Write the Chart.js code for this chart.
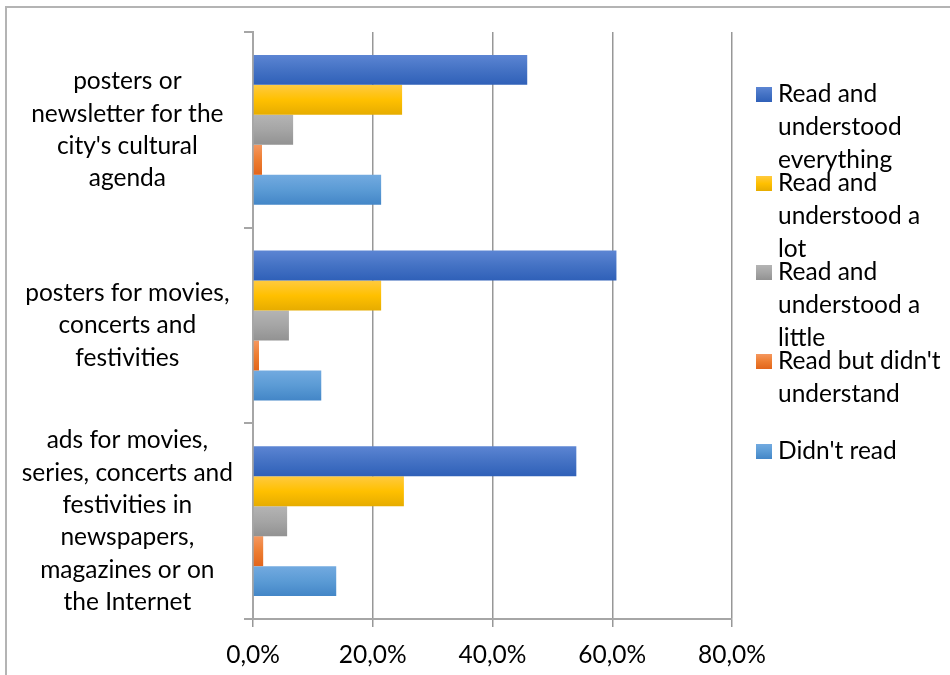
<!DOCTYPE html>
<html>
<head>
<meta charset="utf-8">
<script src="https://cdn.jsdelivr.net/npm/chart.js@4/dist/chart.umd.min.js"></script>
<style>
  html, body { margin: 0; padding: 0; background: #fff; }
  #wrap { position: relative; width: 950px; height: 675px; overflow: hidden; font-family: Lato, sans-serif; }
  #frame { position: absolute; left: 5px; top: 6px; right: -10px; bottom: -10px; border-left: 2px solid #b4b4b4; border-top: 2px solid #b4b4b4; }
  #chart { position: absolute; left: 0; top: 0; }
  #legend { position: absolute; left: 756px; top: 0; width: 194px; height: 675px; }
  .item { position: absolute; left: 0; width: 194px; }
  .box { position: absolute; left: 0; top: 11px; width: 16px; height: 15px; }
  .txt { position: absolute; left: 22px; top: 0; line-height: 33px; font-size: 24.5px; color: #000; white-space: nowrap; }
</style>
</head>
<body>
<div id="wrap">
  <div id="frame"></div>
  <canvas id="chart" width="950" height="675"></canvas>
  <div id="legend"></div>
</div>
<script>
const categories = [
  ["posters or", "newsletter for the", "city's cultural", "agenda"],
  ["posters for movies,", "concerts and", "festivities"],
  ["ads for movies,", "series, concerts and", "festivities in", "newspapers,", "magazines or on", "the Internet"]
];

const seriesNames = [
  "Read and understood everything",
  "Read and understood a lot",
  "Read and understood a little",
  "Read but didn't understand",
  "Didn't read"
];

// legend text is wrapped the same way the office chart wraps it
const legendLines = [
  ["Read and", "understood", "everything"],
  ["Read and", "understood a", "lot"],
  ["Read and", "understood a", "little"],
  ["Read but didn't", "understand"],
  ["Didn't read"]
];

const understoodEverything = [45.8, 60.7, 54.0];
const understoodALot = [24.9, 21.4, 25.2];
const understoodALittle = [6.7, 6.0, 5.7];
const readNotUnderstood = [1.5, 1.0, 1.7];
const didntRead = [21.4, 11.4, 13.9];

const xTickValues = [0, 20, 40, 60, 80];

// top / middle / bottom shades for each series
const shades = [
  ["#5c85d3", "#4472c4", "#2f60b8"],
  ["#ffca40", "#ffc000", "#e6ac00"],
  ["#b4b4b4", "#a5a5a5", "#929292"],
  ["#f5975f", "#ed7d31", "#e2651b"],
  ["#72aae0", "#5b9bd5", "#4386c7"]
];

function barFill(s) {
  return function (ctx) {
    const el = ctx.element;
    if (!el || el.height == null || !isFinite(el.y)) return s[1];
    const top = el.y - el.height / 2;
    const g = ctx.chart.ctx.createLinearGradient(0, top, 0, top + el.height);
    g.addColorStop(0, s[0]);
    g.addColorStop(0.5, s[1]);
    g.addColorStop(1, s[2]);
    return g;
  };
}

const seriesData = [understoodEverything, understoodALot, understoodALittle, readNotUnderstood, didntRead];

const datasets = seriesData.map((vals, i) => ({
  label: seriesNames[i],
  data: vals,
  backgroundColor: barFill(shades[i]),
  borderWidth: 0,
  barPercentage: 1,
  categoryPercentage: 0.766
}));

const labelFont = { family: "Lato, sans-serif", size: 24.5, lineHeight: 1.32 };

const chart = new Chart(document.getElementById("chart"), {
  type: 'bar',
  data: { labels: categories, datasets: datasets },
  options: {
    indexAxis: 'y',
    responsive: false,
    animation: false,
    layout: { padding: { top: 32, right: 218, left: 0, bottom: 0 } },
    plugins: { legend: { display: false }, tooltip: { enabled: false } },
    scales: {
      x: {
        min: 0,
        max: 80,
        afterBuildTicks: (scale) => { scale.ticks = xTickValues.map(v => ({ value: v })); },
        ticks: {
          color: '#000',
          font: { family: "Lato, sans-serif", size: 24.5 },
          padding: 13,
          maxRotation: 0,
          callback: (v) => v.toFixed(1).replace('.', ',') + '%'
        },
        grid: { color: '#979797', lineWidth: 1.5, tickLength: 8 },
        border: { color: '#a6a6a6', width: 2 },
        afterFit: (scale) => { scale.height = 56; scale.paddingLeft = 0; scale.paddingRight = 0; }
      },
      y: {
        ticks: {
          color: '#000',
          font: labelFont,
          crossAlign: 'center',
          padding: 11,
          autoSkip: false
        },
        grid: { drawOnChartArea: false, tickLength: 9, color: '#a6a6a6', lineWidth: 2 },
        border: { color: '#a6a6a6', width: 2 },
        afterFit: (scale) => { scale.width = 253; scale.paddingTop = 0; scale.paddingBottom = 0; }
      }
    }
  }
});
// second pass so the bar gradients can use the laid-out bar positions
chart.update();

const legend = document.getElementById("legend");
const firstLine = 75.5;
const pitch = 89.3;
legendLines.forEach((lines, i) => {
  const item = document.createElement("div");
  item.className = "item";
  item.style.top = (firstLine + i * pitch) + "px";
  const box = document.createElement("div");
  box.className = "box";
  box.style.background = "linear-gradient(" + shades[i][0] + "," + shades[i][1] + "," + shades[i][2] + ")";
  const txt = document.createElement("div");
  txt.className = "txt";
  txt.innerHTML = lines.join("<br>");
  item.appendChild(box);
  item.appendChild(txt);
  legend.appendChild(item);
});
</script>
</body>
</html>
